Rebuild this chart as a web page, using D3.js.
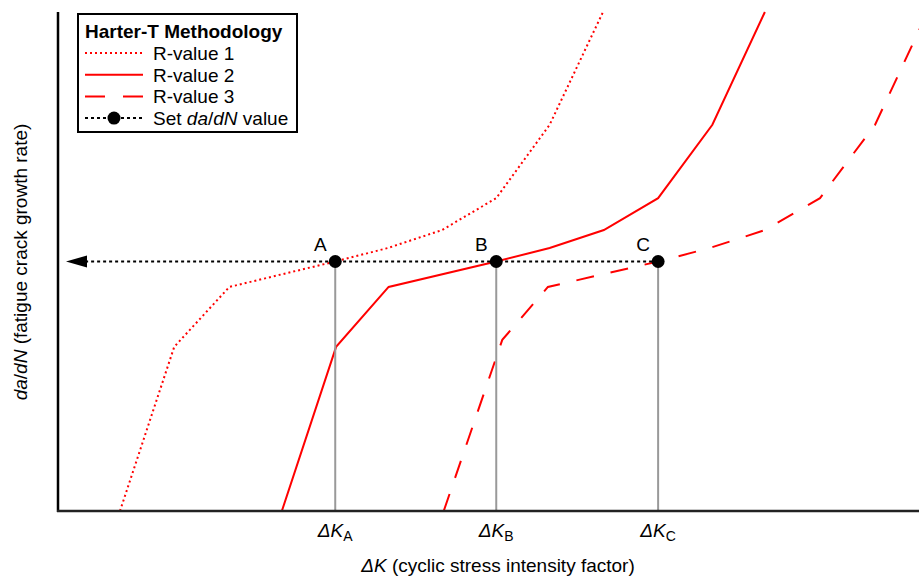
<!DOCTYPE html>
<html>
<head>
<meta charset="utf-8">
<script src="https://cdn.jsdelivr.net/npm/d3@7"></script>
<style>
  body { margin: 0; background: #fff; }
  svg { font-family: "Liberation Sans", Arial, sans-serif; }
</style>
</head>
<body>
<svg id="chart" width="919" height="577"></svg>
<script>
// curves, in arbitrary dK / da/dN units
const rValue1 = [[0.72, 0], [1.35, 3.29], [1.99, 4.49], [3.22, 5.0], [3.83, 5.27], [4.46, 5.63], [5.09, 6.27], [5.71, 7.74], [6.33, 10.0]];
const rValue2 = [[2.60, 0], [3.23, 3.29], [3.84, 4.49], [5.09, 5.0], [5.71, 5.27], [6.34, 5.63], [6.97, 6.27], [7.60, 7.74], [8.21, 10.0]];
const rValue3 = [[4.48, 0], [5.16, 3.43], [5.69, 4.49], [6.97, 5.0], [7.57, 5.27], [8.21, 5.63], [8.85, 6.27], [9.49, 7.74], [10.10, 10.0]];
const setValue = 5.0;
const markLabels = ["A", "B", "C"];
const markK = [3.22, 5.09, 6.97];
const legendLabels = ["R-value 1", "R-value 2", "R-value 3"];

const svg = d3.select("#chart");
const x = d3.scaleLinear().domain([0, 10]).range([58, 919]);
const y = d3.scaleLinear().domain([0, 10]).range([511, 12]);

svg.append("defs").append("clipPath").attr("id", "plot")
    .append("rect").attr("x", 58).attr("y", 0).attr("width", 861).attr("height", 511);

const line = d3.line().x(d => x(d[0])).y(d => y(d[1]));

const styles = [
    { dash: "2,3" },
    { dash: null },
    { dash: "18,17" }
];

// curves
[rValue1, rValue2, rValue3].forEach((data, i) => {
    svg.append("path")
        .datum(data)
        .attr("clip-path", "url(#plot)")
        .attr("d", line)
        .attr("fill", "none")
        .attr("stroke", "#ff0000")
        .attr("stroke-width", 2)
        .attr("stroke-dasharray", styles[i].dash);
});

// grey drop lines
svg.selectAll(".drop")
    .data(markK)
    .enter()
    .append("line")
    .attr("x1", d => x(d)).attr("x2", d => x(d))
    .attr("y1", y(setValue)).attr("y2", y(0))
    .attr("stroke", "#999")
    .attr("stroke-width", 2);

// dotted line with arrow
svg.append("line")
    .attr("x1", x(d3.max(markK))).attr("x2", 84)
    .attr("y1", y(setValue)).attr("y2", y(setValue))
    .attr("stroke", "#000")
    .attr("stroke-width", 2)
    .attr("stroke-dasharray", "3,3");
svg.append("path")
    .attr("d", `M66,${y(setValue)} L87,${y(setValue) - 6} L87,${y(setValue) + 6} Z`)
    .attr("fill", "#000");

svg.selectAll(".dot")
    .data(markK)
    .enter()
    .append("circle")
    .attr("cx", d => x(d)).attr("cy", y(setValue))
    .attr("r", 6.5)
    .attr("fill", "#000");

svg.selectAll(".mark-label")
    .data(markK)
    .enter()
    .append("text")
    .attr("x", d => x(d) - 15).attr("y", y(setValue) - 11)
    .attr("text-anchor", "middle")
    .attr("font-size", 19)
    .text((d, i) => markLabels[i]);

// axes
svg.append("line").attr("x1", 58).attr("x2", 58).attr("y1", 12).attr("y2", 512)
    .attr("stroke", "#000").attr("stroke-width", 2.5);
svg.append("line").attr("x1", 57).attr("x2", 919).attr("y1", 511).attr("y2", 511)
    .attr("stroke", "#222").attr("stroke-width", 2.5);

// tick labels dK_A etc
const ticks = svg.selectAll(".tick-label")
    .data(markK)
    .enter()
    .append("text")
    .attr("x", d => x(d)).attr("y", 537)
    .attr("text-anchor", "middle")
    .attr("font-size", 19);
ticks.append("tspan").attr("font-style", "italic").text("\u0394K");
ticks.append("tspan").attr("font-size", 14).attr("dy", 4).text((d, i) => markLabels[i]);

// axis titles
const xt = svg.append("text")
    .attr("x", 498).attr("y", 572)
    .attr("text-anchor", "middle")
    .attr("font-size", 19);
xt.append("tspan").attr("font-style", "italic").text("\u0394K");
xt.append("tspan").text(" (cyclic stress intensity factor)");

const yt = svg.append("text")
    .attr("transform", "translate(27,262) rotate(-90)")
    .attr("text-anchor", "middle")
    .attr("font-size", 19);
yt.append("tspan").attr("font-style", "italic").text("da");
yt.append("tspan").text("/");
yt.append("tspan").attr("font-style", "italic").text("dN");
yt.append("tspan").text(" (fatigue crack growth rate)");

// legend
const lg = svg.append("g").attr("transform", "translate(78,14)");
lg.append("rect")
    .attr("x", 0).attr("y", 0).attr("width", 219).attr("height", 118)
    .attr("fill", "#fff").attr("stroke", "#000").attr("stroke-width", 2);
lg.append("text").attr("x", 7).attr("y", 24)
    .attr("font-size", 19).attr("font-weight", "bold")
    .text("Harter-T Methodology");

const rows = lg.selectAll(".row")
    .data(legendLabels)
    .enter()
    .append("g")
    .attr("transform", (d, i) => `translate(0,${39 + i * 21.7})`);
rows.append("line")
    .attr("x1", 7).attr("x2", 65)
    .attr("stroke", "#ff0000").attr("stroke-width", 2)
    .attr("stroke-dasharray", (d, i) => i === 2 ? "20,18" : styles[i].dash);
rows.append("text")
    .attr("x", 75).attr("y", 7)
    .attr("font-size", 19)
    .text(d => d);

const last = lg.append("g").attr("transform", `translate(0,${39 + 3 * 21.7})`);
last.append("line")
    .attr("x1", 7).attr("x2", 65)
    .attr("stroke", "#000").attr("stroke-width", 2)
    .attr("stroke-dasharray", "3,3");
last.append("circle").attr("cx", 36).attr("cy", 0).attr("r", 6.5).attr("fill", "#000");
const lt = last.append("text").attr("x", 75).attr("y", 7).attr("font-size", 19);
lt.append("tspan").text("Set ");
lt.append("tspan").attr("font-style", "italic").text("da");
lt.append("tspan").text("/");
lt.append("tspan").attr("font-style", "italic").text("dN");
lt.append("tspan").text(" value");
</script>
</body>
</html>
